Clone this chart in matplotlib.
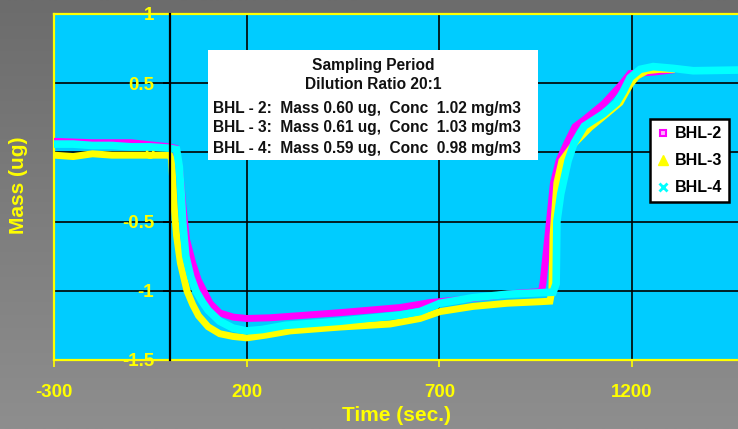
import numpy as np
import matplotlib
matplotlib.use('Agg')
import matplotlib.pyplot as plt
from matplotlib.colors import LinearSegmentedColormap
from matplotlib.lines import Line2D
from matplotlib.patches import Rectangle

plt.rcParams['font.family'] = ['Liberation Sans', 'DejaVu Sans']
plt.rcParams['font.weight'] = 'bold'
plt.rcParams['axes.unicode_minus'] = False

# ---- data (time in s, mass in ug) ----
bhl2_t = [-300, -200, -100, 0, 15, 25, 35, 44, 60, 74, 105, 130, 165, 200, 260,
          442, 598, 676, 787, 891, 965, 969, 987, 996, 1011, 1031, 1052, 1075,
          1126, 1169, 1195, 1255, 1302]
bhl2_m = [0.08, 0.07, 0.07, 0.04, 0.03, -0.10, -0.40, -0.63, -0.80, -0.92, -1.09,
          -1.16, -1.19, -1.20, -1.195, -1.158, -1.121, -1.085, -1.055, -1.02,
          -1.005, -0.944, -0.465, -0.222, -0.055, 0.068, 0.186, 0.234, 0.35,
          0.48, 0.57, 0.58, 0.595]

bhl3_t = [-300, -250, -200, -150, -100, -50, 0, 5, 8, 12, 18, 28, 45, 60, 75,
          100, 130, 165, 200, 250, 312, 442, 572, 650, 702, 787, 876, 961, 987,
          992, 995, 1005, 1018, 1052, 1091, 1126, 1169, 1195, 1212, 1238, 1272,
          1302]
bhl3_m = [-0.02, -0.03, -0.01, -0.02, -0.02, -0.02, -0.02, -0.05, -0.20, -0.40,
          -0.60, -0.80, -1.00, -1.10, -1.18, -1.26, -1.31, -1.33, -1.34, -1.32,
          -1.29, -1.262, -1.24, -1.20, -1.15, -1.113, -1.09, -1.079, -1.075,
          -1.00, -0.60, -0.22, -0.06, 0.07, 0.18, 0.26, 0.36, 0.49, 0.55, 0.59,
          0.60, 0.60]

bhl4_t = [-300, -250, -200, -150, -100, -50, 0, 18, 25, 30, 34, 42, 55, 68, 85,
          100, 130, 165, 200, 240, 300, 442, 598, 650, 702, 787, 876, 995, 1003,
          1005, 1015, 1034, 1050, 1076, 1126, 1160, 1177, 1195, 1221, 1255,
          1307, 1359, 1428, 1475]
bhl4_m = [0.06, 0.06, 0.05, 0.05, 0.04, 0.04, 0.03, 0.02, -0.10, -0.30, -0.50,
          -0.75, -0.90, -1.00, -1.08, -1.14, -1.22, -1.27, -1.29, -1.28, -1.25,
          -1.22, -1.175, -1.15, -1.09, -1.05, -1.025, -1.01, -0.95, -0.50,
          -0.30, -0.06, 0.07, 0.19, 0.28, 0.36, 0.44, 0.54, 0.60, 0.62, 0.607,
          0.59, 0.593, 0.595]

series_names = ['BHL-2', 'BHL-3', 'BHL-4']
xticks = [-300, 200, 700, 1200]
xtick_labels = ['-300', '200', '700', '1200']
yticks = [1, 0.5, 0, -0.5, -1, -1.5]
ytick_labels = ['1', '0.5', '0', '-0.5', '-1', '-1.5']

box_title = ['Sampling Period', 'Dilution Ratio 20:1']
box_lines = ['BHL - 2:  Mass 0.60 ug,  Conc  1.02 mg/m3',
             'BHL - 3:  Mass 0.61 ug,  Conc  1.03 mg/m3',
             'BHL - 4:  Mass 0.59 ug,  Conc  0.98 mg/m3']

YEL = '#ffff00'
MAG = '#ff00ff'
CYN = '#00ffff'

fig = plt.figure(figsize=(7.38, 4.29), dpi=100)

# gray gradient background
bg = fig.add_axes([0, 0, 1, 1], zorder=-10)
grad = np.linspace(0, 1, 256).reshape(-1, 1)
cmap = LinearSegmentedColormap.from_list('bg', ['#6c6c6c', '#8e8e8e'])
bg.imshow(grad, aspect='auto', cmap=cmap, extent=[0, 1, 0, 1])
bg.axis('off')

ax = fig.add_axes([54 / 738, 1 - 360 / 429, 684 / 738, 346 / 429])
ax.set_facecolor('#00ccff')
ax.set_xlim(-300, 1475)
ax.set_ylim(-1.5, 1)

ax.plot(bhl2_t, bhl2_m, color=MAG, lw=5, solid_joinstyle='miter', zorder=3)
ax.plot(bhl3_t, bhl3_m, color=YEL, lw=5, solid_joinstyle='miter', zorder=4)
ax.plot(bhl4_t, bhl4_m, color=CYN, lw=5.5, solid_joinstyle='miter', zorder=5)

# axes / spines
ax.spines['left'].set_position(('data', 0))
ax.spines['left'].set_color('black')
ax.spines['left'].set_linewidth(1.6)
ax.spines['left'].set_zorder(6)
ax.spines['right'].set_position(('data', -300))
ax.spines['right'].set_color(YEL)
ax.spines['right'].set_linewidth(1.6)
for s in ['top', 'bottom']:
    ax.spines[s].set_color(YEL)
    ax.spines[s].set_linewidth(1.6)

ax.set_yticks(yticks)
ax.set_yticklabels(ytick_labels)
ax.set_xticks(xticks)
ax.set_xticklabels(xtick_labels)
ax.tick_params(axis='y', colors='black', labelcolor=YEL, length=5, width=1.2,
               pad=6, labelsize=13.5)
ax.tick_params(axis='x', colors=YEL, labelcolor=YEL, length=5, width=1.2,
               pad=12, labelsize=13.5)
ax.yaxis.set_ticks_position('left')
ax.xaxis.set_ticks_position('bottom')
ax.grid(True, color='black', lw=1.2)
ax.set_axisbelow(True)

ax.set_xlabel('Time (sec.)', color=YEL, fontsize=15, fontweight='bold')
ax.xaxis.set_label_coords(0.5, -0.132)
ax.set_ylabel('Mass (ug)', color=YEL, fontsize=15, fontweight='bold')
ax.yaxis.set_label_coords(-0.038, 0.505)

# annotation box
ax.add_patch(Rectangle((0.2251, 0.578), 0.4825, 0.318, transform=ax.transAxes,
                       facecolor='white', edgecolor='none', zorder=7))
for txt, y in zip(box_title, [0.8526, 0.7948]):
    ax.text(0.4664, y, txt, transform=ax.transAxes, ha='center', va='center',
            fontsize=11.2, fontweight='bold', color='#111111', zorder=8)
for txt, y in zip(box_lines, [0.7283, 0.6734, 0.6127]):
    ax.text(0.2325, y, txt, transform=ax.transAxes, ha='left', va='center',
            fontsize=11.2, fontweight='bold', color='#111111', zorder=8)

# legend
handles = [
    Line2D([], [], ls='none', marker='s', ms=4.5, mfc='#ffb0ff', mec=MAG, mew=1.5),
    Line2D([], [], ls='none', marker='^', ms=7, mfc=YEL, mec=YEL),
    Line2D([], [], ls='none', marker='x', ms=5.5, mec=CYN, mew=2),
]
leg = ax.legend(handles, series_names, loc='upper right',
                bbox_to_anchor=(0.9868, 0.6965), borderaxespad=0,
                fancybox=False, framealpha=1, edgecolor='black',
                prop={'weight': 'bold', 'size': 11.5}, handlelength=0.8,
                handletextpad=0.3, labelspacing=0.75, borderpad=0.45)
leg.get_frame().set_linewidth(1.8)
leg.set_zorder(9)

fig.savefig('out.png', dpi=100)
